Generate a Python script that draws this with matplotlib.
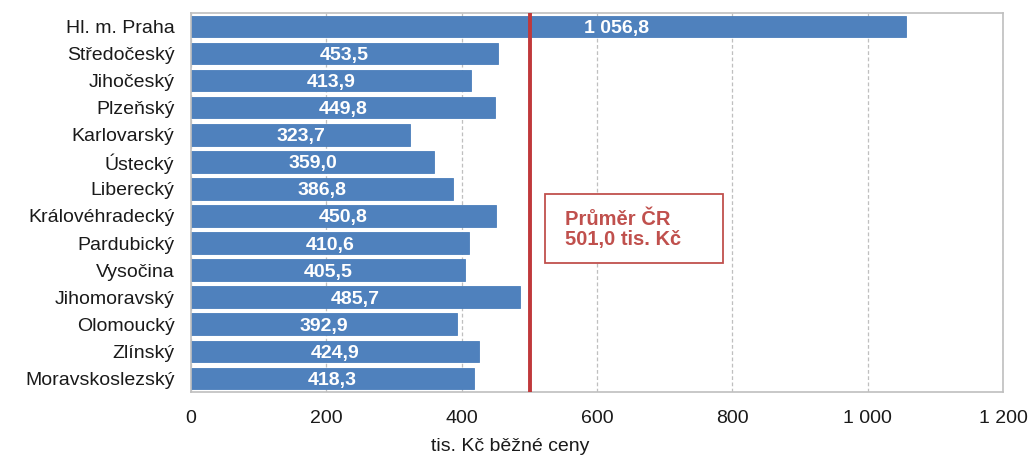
import matplotlib.pyplot as plt
from matplotlib.patches import Rectangle
from matplotlib.ticker import FuncFormatter

plt.rcParams['font.family'] = ['Liberation Sans', 'DejaVu Sans']

regions = ['Hl. m. Praha', 'Středočeský', 'Jihočeský', 'Plzeňský', 'Karlovarský',
           'Ústecký', 'Liberecký', 'Královéhradecký', 'Pardubický', 'Vysočina',
           'Jihomoravský', 'Olomoucký', 'Zlínský', 'Moravskoslezský']
values = [1056.8, 453.5, 413.9, 449.8, 323.7, 359.0, 386.8, 450.8, 410.6, 405.5,
          485.7, 392.9, 424.9, 418.3]
avg_cr = 501.0


def cz_num(v, decimals=1):
    s = f'{v:,.{decimals}f}'
    return s.replace(',', ' ').replace('.', ',')


fig = plt.figure(figsize=(10.33, 4.59), dpi=100)
ax = fig.add_axes([0.185, 0.146, 0.786, 0.826])

pos = list(range(len(regions)))
ax.barh(pos, values, height=0.8, color='#4F81BD', edgecolor='#4A7EBB', linewidth=0.6, zorder=2)

for i, v in enumerate(values):
    # Praha label sits right of the average line in the original
    x = v / 2 if i > 0 else 629
    ax.text(x, i, cz_num(v), ha='center', va='center_baseline', color='white',
            fontsize=14, fontweight='bold', zorder=3)

ax.axvline(avg_cr, color='#C0393B', linewidth=2.8, zorder=4)

# note box with the CR average
ax.add_patch(Rectangle((0.436, 0.34), 0.219, 0.182, transform=ax.transAxes,
                       facecolor='white', edgecolor='#C0504D', linewidth=1.3, zorder=5))
ax.text(0.461, 0.428, 'Průměr ČR\n' + cz_num(avg_cr) + ' tis. Kč', transform=ax.transAxes,
        color='#C0504D', fontsize=14.5, fontweight='bold', ha='left', va='center',
        linespacing=1.1, zorder=6)

ax.set_xlim(0, 1200)
ax.set_ylim(13.5, -0.5)
ax.set_xticks([0, 200, 400, 600, 800, 1000, 1200])
ax.xaxis.set_major_formatter(FuncFormatter(lambda v, p: cz_num(v, 0)))
ax.set_yticks(pos)
ax.set_yticklabels(regions)
ax.tick_params(axis='both', length=0, labelsize=14, labelcolor='#1A1A1A')
ax.tick_params(axis='y', pad=12)
ax.tick_params(axis='x', pad=13)
ax.grid(axis='x', color='#BFBFBF', linestyle=(0, (3, 2)), linewidth=0.9, zorder=0)
for s in ax.spines.values():
    s.set_color('#BFBFBF')
    s.set_linewidth(1.2)

ax.set_xlabel('tis. Kč běžné ceny', fontsize=14, color='#1A1A1A')
ax.xaxis.set_label_coords(0.393, -0.122)

fig.savefig('out.png', dpi=100)
